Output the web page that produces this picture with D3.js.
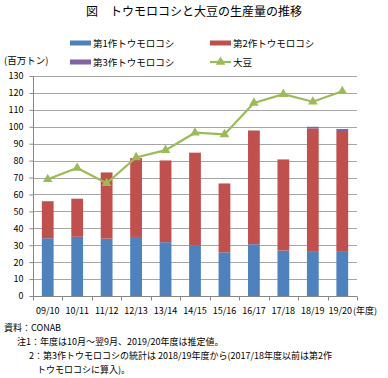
<!DOCTYPE html>
<html>
<head>
<meta charset="utf-8">
<script src="https://cdn.jsdelivr.net/npm/d3@7"></script>
<style>
  body { margin: 0; background: #fff; }
  text { font-family: "Noto Sans CJK JP", "Noto Sans", sans-serif; fill: #000; }
  .grid line { stroke: #a6a6a6; stroke-width: 1; }
  .axis path, .axis line { stroke: #868686; }
</style>
</head>
<body>
<script>
(function(){
  // data (百万トン)
  var years = ["09/10", "10/11", "11/12", "12/13", "13/14", "14/15", "15/16", "16/17", "17/18", "18/19", "19/20"];
  var corn1 = [34.1, 35.0, 33.9, 34.9, 31.8, 30.1, 25.8, 30.6, 26.9, 26.1, 26.1];
  var corn2 = [21.9, 22.5, 39.1, 46.6, 48.3, 54.6, 40.7, 67.2, 53.8, 72.9, 71.4];
  var corn3 = [0, 0, 0, 0, 0, 0, 0, 0, 0, 1.0, 1.2];
  var soy = [69.0, 75.6, 66.6, 81.9, 86.2, 96.5, 95.5, 114.1, 119.3, 114.8, 121.0];
  var yTicks = d3.range(0, 131, 10);

  var width = 388, height = 378;
  var left = 33, right = 357, top = 76, bottom = 296;

  var svg = d3.select("body").append("svg")
      .attr("width", width)
      .attr("height", height);

  // title
  svg.append("text")
      .attr("x", 194).attr("y", 16)
      .attr("text-anchor", "middle")
      .style("font-size", "12px")
      .text("図　トウモロコシと大豆の生産量の推移");

  var x = d3.scaleBand().domain(years).range([left, right]).paddingInner(0.6).paddingOuter(0.3);
  var xc = d3.scaleBand().domain(years).range([left, right]);
  var y = d3.scaleLinear().domain([0, 130]).range([bottom, top]);

  // gridlines
  svg.append("g").attr("class", "grid")
    .selectAll("line")
    .data(yTicks.slice(1))
    .enter().append("line")
    .attr("x1", left).attr("x2", right)
    .attr("y1", function(d){ return Math.round(y(d)) + 0.5; })
    .attr("y2", function(d){ return Math.round(y(d)) + 0.5; });

  // stacked bars
  var series = [
    {name: "第1作トウモロコシ", vals: corn1, color: "#4f81bd"},
    {name: "第2作トウモロコシ", vals: corn2, color: "#c0504d"},
    {name: "第3作トウモロコシ", vals: corn3, color: "#8064a2"}
  ];
  var rows = years.map(function(yr, i){
    return {year: yr, c1: corn1[i], c2: corn2[i], c3: corn3[i]};
  });
  var stack = d3.stack().keys(["c1", "c2", "c3"])(rows);

  svg.append("g").selectAll("g")
    .data(stack)
    .enter().append("g")
    .attr("fill", function(d, i){ return series[i].color; })
    .selectAll("rect")
    .data(function(d){ return d; })
    .enter().append("rect")
    .attr("x", function(d){ return x(d.data.year); })
    .attr("width", x.bandwidth())
    .attr("y", function(d){ return y(d[1]); })
    .attr("height", function(d){ return y(d[0]) - y(d[1]); });

  // axes
  var yAxis = d3.axisLeft(y).tickValues(yTicks).tickSize(4).tickPadding(4);
  var ya = svg.append("g").attr("class", "axis")
      .attr("transform", "translate(" + (left + 0.5) + ",0)")
      .call(yAxis);
  ya.select(".domain").attr("d", "M0," + top + "V" + bottom);
  ya.selectAll("text").style("font-size", "9px").attr("dx", "-2");

  var xa = svg.append("g").attr("class", "axis")
      .attr("transform", "translate(0," + (bottom + 0.5) + ")");
  xa.append("line").attr("x1", left).attr("x2", right).attr("y1", 0).attr("y2", 0);
  xa.selectAll(".tk")
    .data(years.concat(["end"]))
    .enter().append("line")
    .attr("x1", function(d, i){ return Math.round(left + i * xc.bandwidth()) + 0.5; })
    .attr("x2", function(d, i){ return Math.round(left + i * xc.bandwidth()) + 0.5; })
    .attr("y1", 0).attr("y2", 4);
  xa.selectAll(".lbl")
    .data(years)
    .enter().append("text")
    .attr("x", function(d, i){ return xc(d) + xc.bandwidth() / 2 - (i == years.length - 1 ? 2 : 0); })
    .attr("y", 17)
    .attr("text-anchor", "middle")
    .style("font-size", "9px")
    .text(function(d){ return d; });
  xa.append("text")
    .attr("x", 353).attr("y", 17)
    .style("font-size", "9px")
    .text("(年度)");

  // soybean line
  var line = d3.line()
      .x(function(d, i){ return xc(years[i]) + xc.bandwidth() / 2; })
      .y(function(d){ return y(d); });
  svg.append("path")
      .datum(soy)
      .attr("d", line)
      .attr("fill", "none")
      .attr("stroke", "#9bbb59")
      .attr("stroke-width", 2.2);
  var tri = d3.symbol().type(d3.symbolTriangle).size(40);
  svg.append("g").selectAll("path")
    .data(soy)
    .enter().append("path")
    .attr("d", tri)
    .attr("fill", "#9bbb59")
    .attr("transform", function(d, i){
      return "translate(" + (xc(years[i]) + xc.bandwidth() / 2) + "," + y(d) + ")";
    });

  // unit label
  svg.append("text")
      .attr("x", 4).attr("y", 64)
      .style("font-size", "9.5px")
      .text("(百万トン)");

  // legend
  var legend = [
    {name: series[0].name, color: series[0].color, type: "bar", lx: 70, ly: 43},
    {name: series[1].name, color: series[1].color, type: "bar", lx: 210, ly: 43},
    {name: series[2].name, color: series[2].color, type: "bar", lx: 70, ly: 62},
    {name: "大豆", color: "#9bbb59", type: "line", lx: 210, ly: 62}
  ];
  var lg = svg.append("g").selectAll("g")
    .data(legend)
    .enter().append("g")
    .attr("transform", function(d){ return "translate(" + d.lx + "," + d.ly + ")"; });
  lg.filter(function(d){ return d.type == "bar"; })
    .append("rect")
    .attr("x", 0).attr("y", -2.5).attr("width", 21).attr("height", 5)
    .attr("fill", function(d){ return d.color; });
  lg.filter(function(d){ return d.type == "line"; })
    .append("line")
    .attr("x1", 0).attr("x2", 21).attr("y1", 0).attr("y2", 0)
    .attr("stroke", function(d){ return d.color; })
    .attr("stroke-width", 2.2);
  lg.filter(function(d){ return d.type == "line"; })
    .append("path")
    .attr("d", tri)
    .attr("transform", "translate(10.5,0)")
    .attr("fill", function(d){ return d.color; });
  lg.append("text")
    .attr("x", 23).attr("y", 3.5)
    .style("font-size", "9.5px")
    .text(function(d){ return d.name; });

  // notes
  var notes = [
    {t: "資料：CONAB", nx: 4, ny: 331},
    {t: "注1：年度は10月～翌9月、2019/20年度は推定値。", nx: 17, ny: 345},
    {t: "2：第3作トウモロコシの統計は 2018/19年度から(2017/18年度以前は第2作", nx: 29, ny: 359},
    {t: "トウモロコシに算入)。", nx: 37, ny: 373}
  ];
  svg.append("g").selectAll("text")
    .data(notes)
    .enter().append("text")
    .attr("x", function(d){ return d.nx; })
    .attr("y", function(d){ return d.ny; })
    .style("font-size", "9px")
    .text(function(d){ return d.t; });
})();
</script>
</body>
</html>
